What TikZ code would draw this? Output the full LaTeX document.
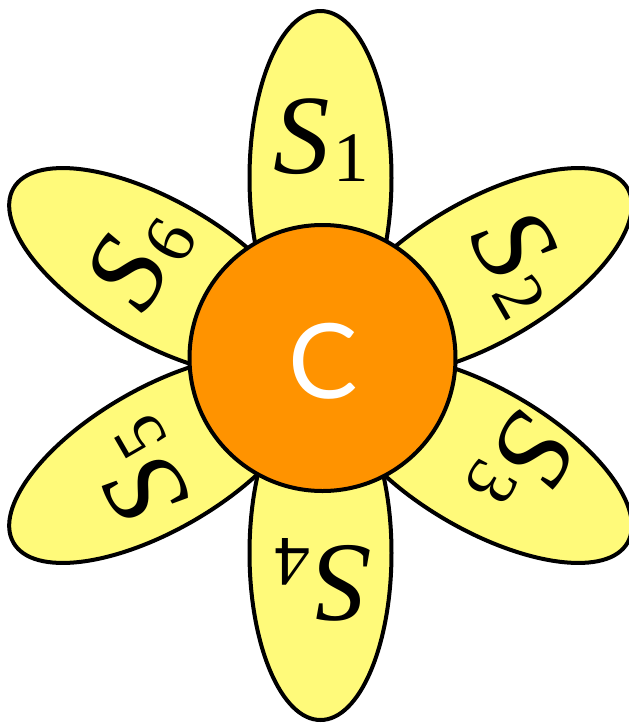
\documentclass[tikz,border=0pt]{standalone}
\usepackage{fontspec}
\setmainfont{Liberation Serif}
\newfontfamily\csans{Lato}
\definecolor{petalfill}{RGB}{255,250,122}
\definecolor{corefill}{RGB}{255,147,0}
\newcommand{\plab}[1]{{\fontsize{113}{113}\selectfont\itshape S}\kern4pt\raisebox{-8pt}{\fontsize{71}{71}\selectfont #1}}
\tikzset{
  petal/.style={draw=black, line width=4pt, fill=petalfill},
  core/.style={circle, draw=black, line width=4pt, fill=corefill, minimum size=266pt, inner sep=0pt},
  plabel/.style={inner sep=0pt, text=black},
}
\begin{document}
\begin{tikzpicture}[x=1pt, y=1pt]
  \useasboundingbox (0,0) rectangle (629,-724);
  \coordinate (hub) at (320.5,-365.5);
  % side petals
  \foreach \ang in {30,-30,210,150}{
    \draw[petal, shift={(hub)}, rotate=\ang] (187.5,0) ellipse [x radius=167, y radius=71];
  }
  % top and bottom petals
  \foreach \ang in {90,-90}{
    \draw[petal, shift={(hub)}, rotate=\ang] (187.5,0) ellipse [x radius=167, y radius=71];
  }
  \node[core] (c) at (322.5,-358) {};
  \node[text=white, inner sep=0pt] (clab) at (323.5,-361.5) {\csans\fontsize{104}{104}\selectfont C};
  \node[plabel, rotate=0]    (s1) at (321,-140) {\plab{1}};
  \node[plabel, rotate=-60]  (s2) at (520,-262) {\plab{2}};
  \node[plabel, rotate=-120] (s3) at (522,-465) {\plab{3}};
  \node[plabel, rotate=180]  (s4) at (323,-580) {\plab{4}};
  \node[plabel, rotate=120]  (s5) at (140,-472) {\plab{5}};
  \node[plabel, rotate=60]   (s6) at (140,-258) {\plab{6}};
\end{tikzpicture}
\end{document}
